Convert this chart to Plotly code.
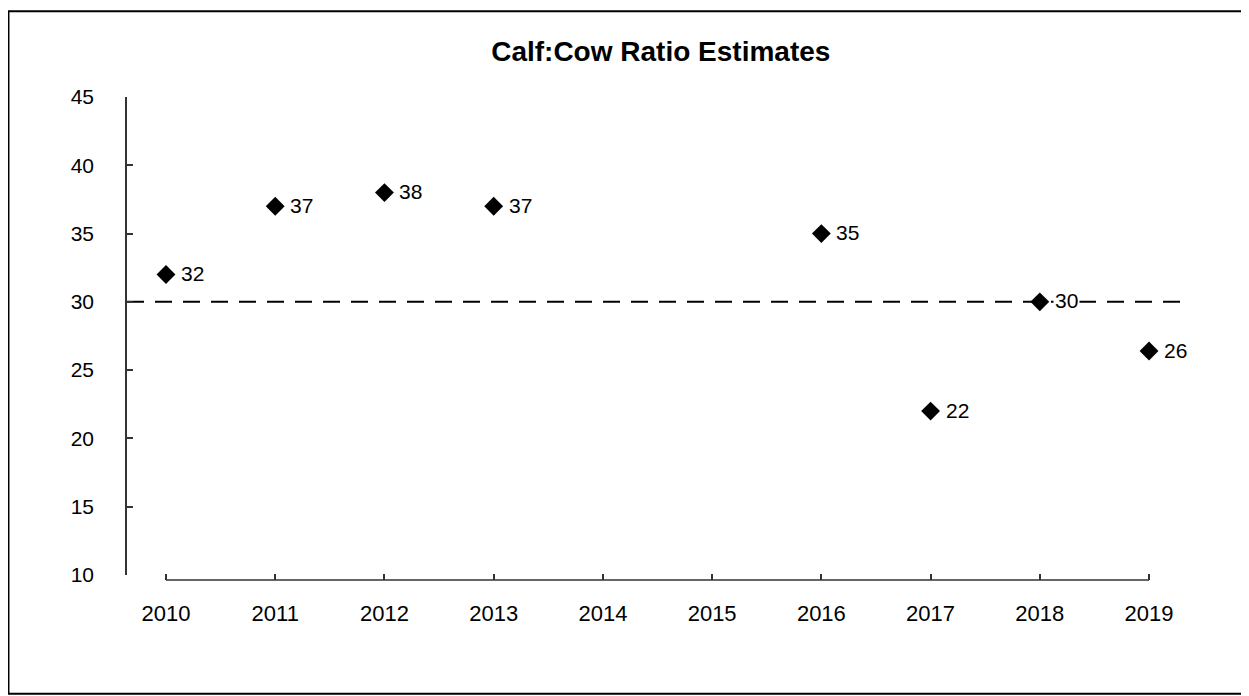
import plotly.graph_objects as go

# Calf:Cow ratio estimates by year (2014 and 2015 had no estimate)
years = [2010, 2011, 2012, 2013, 2016, 2017, 2018, 2019]
ratios = [32, 37, 38, 37, 35, 22, 30, 26.4]
ratio_labels = ['32', '37', '38', '37', '35', '22', '30', '26']
all_years = list(range(2010, 2020))
y_ticks = [10, 15, 20, 25, 30, 35, 40, 45]
target_ratio = 30

FONT = 'Liberation Sans, Arial, sans-serif'

fig = go.Figure()

fig.add_trace(go.Scatter(
    x=years,
    y=ratios,
    mode='markers',
    marker={'symbol': 'diamond', 'size': 14.5, 'color': 'black'},
    showlegend=False,
    cliponaxis=False,
))

# value labels, white box so the dashed line does not run through them
for yr, val, lab in zip(years, ratios, ratio_labels):
    fig.add_annotation(x=yr, y=val, text=lab, showarrow=False,
                       xanchor='left', xshift=13, yshift=1,
                       bgcolor='white', borderpad=1,
                       font={'size': 21, 'family': FONT, 'color': 'black'})

# dashed reference line at 30
fig.add_shape(type='line', xref='paper', x0=0, x1=1, yref='y', y0=target_ratio, y1=target_ratio,
              layer='below', line={'color': 'black', 'width': 2, 'dash': '17px,11px'})

# x axis line only spans the first to last category
fig.add_shape(type='line', xref='x', x0=all_years[0], x1=all_years[-1], yref='paper', y0=0, y1=0,
              line={'color': '#333', 'width': 1.5})

# frame round the whole chart
fig.add_shape(type='rect', xref='paper', yref='paper',
              x0=-0.1115, x1=1.0546, y0=-0.2355, y1=1.1775,
              line={'color': 'black', 'width': 2})

fig.update_layout(
    width=1241,
    height=688,
    paper_bgcolor='white',
    plot_bgcolor='white',
    margin={'l': 119, 'r': 59, 't': 89, 'b': 116},
    font={'family': FONT, 'color': 'black'},
    title={
        'text': '<b>Calf:Cow Ratio Estimates</b>',
        'x': 0.526, 'xanchor': 'center',
        'y': 0.937, 'yanchor': 'middle',
        'font': {'size': 28, 'family': FONT, 'color': 'black'},
    },
    xaxis={
        'range': [2009.643, 2019.375],
        'tickvals': all_years,
        'ticktext': [str(y) for y in all_years],
        'showgrid': False,
        'zeroline': False,
        'showline': False,
        'ticks': 'inside',
        'ticklen': 6,
        'tickwidth': 1.5,
        'tickcolor': '#333',
        'anchor': 'free',
        'position': 0,
        'tickfont': {'size': 22},
        'ticklabelstandoff': 18,
    },
    yaxis={
        'range': [10, 45],
        'domain': [0.0104, 1],
        'tickvals': y_ticks,
        'showgrid': False,
        'zeroline': False,
        'showline': True,
        'linecolor': '#333',
        'linewidth': 1.5,
        'ticks': 'inside',
        'ticklen': 6,
        'tickwidth': 1.5,
        'tickcolor': '#333',
        'tickfont': {'size': 21},
        'ticklabelstandoff': 27,
    },
)

fig.write_html('out.html')
